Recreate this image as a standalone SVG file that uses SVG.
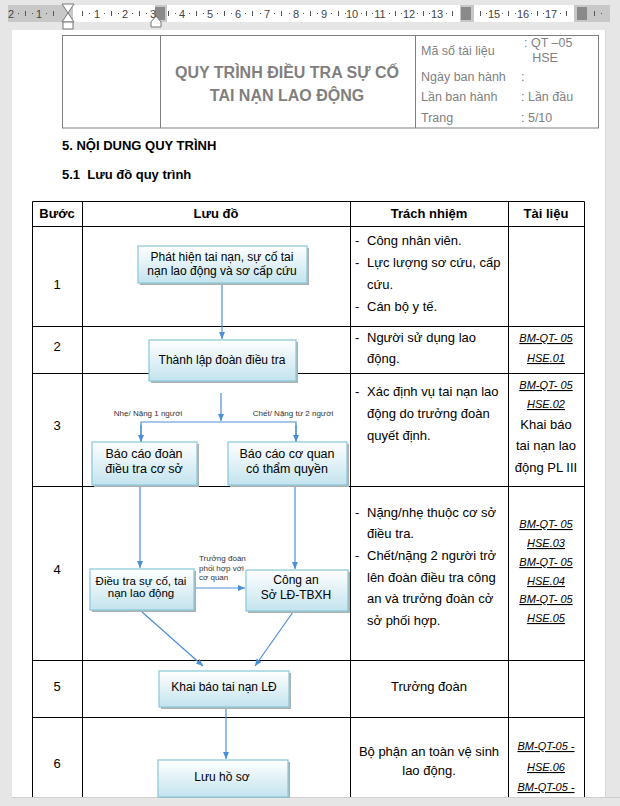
<svg xmlns="http://www.w3.org/2000/svg" width="620" height="806" viewBox="0 0 620 806">
<defs>
<linearGradient id="bg" x1="0" y1="0" x2="0" y2="1">
<stop offset="0" stop-color="#ffffff"/>
<stop offset="1" stop-color="#c3e3ee"/>
</linearGradient>
<marker id="ah" markerWidth="8" markerHeight="8" refX="7" refY="4" orient="auto" markerUnits="userSpaceOnUse">
<path d="M0,1 L7,4 L0,7 Z" fill="#4a8fd6"/>
</marker>
<style>
.t{font-family:"Liberation Sans",Arial,sans-serif;fill:#000}
.g{font-family:"Liberation Sans",Arial,sans-serif;fill:#7f7f7f}
.r{font-family:"Liberation Sans",Arial,sans-serif;fill:#444;font-size:11px}
.b{font-weight:bold}
.box{fill:url(#bg);stroke:#8ecbdc;stroke-width:1.3}
.sh{fill:#b0b0b0}
.c{fill:none;stroke:#4a8fd6;stroke-width:1.2}
.tl{stroke:#000;stroke-width:1;fill:none}
.hl{stroke:#7f7f7f;stroke-width:1;fill:none}
.doc{font-family:"Liberation Sans",Arial,sans-serif;font-size:11px;font-style:italic;text-decoration:underline;fill:#000}
.bx{font-size:12px}
.sm{font-size:8px;fill:#333}
</style>
</defs>
<rect width="620" height="806" fill="#e6e6e6"/>
<!-- ruler -->
<g id="ruler">
<rect x="8" y="5" width="602" height="17" fill="#c8c8c8"/>
<rect x="73" y="5" width="82" height="17" fill="#ffffff"/>
<rect x="167" y="5" width="293" height="17" fill="#ffffff"/>
<rect x="474" y="5" width="100" height="17" fill="#ffffff"/>
<rect x="155" y="7" width="10" height="13" fill="#8a8a8a"/>
<rect x="461" y="7" width="10" height="13" fill="#8a8a8a"/>
<rect x="577" y="7" width="10" height="13" fill="#8a8a8a"/>
<path d="M62,4 L74,4 L68,13 L74,22 L62,22 L68,13 Z" fill="#fff" stroke="#777" stroke-width="1"/>
<rect x="63" y="22" width="10" height="7" fill="#fff" stroke="#777" stroke-width="1"/>
<path d="M151,22 L156,16 L161,22 L161,27 L151,27 Z" fill="#fff" stroke="#777" stroke-width="1"/>
<text class="r" x="11" y="18" text-anchor="middle">2</text>
<text class="r" x="39" y="18" text-anchor="middle">1</text>
<text class="r" x="97" y="18" text-anchor="middle">1</text>
<text class="r" x="125" y="18" text-anchor="middle">2</text>
<text class="r" x="153" y="18" text-anchor="middle">3</text>
<text class="r" x="182" y="18" text-anchor="middle">4</text>
<text class="r" x="210" y="18" text-anchor="middle">5</text>
<text class="r" x="238" y="18" text-anchor="middle">6</text>
<text class="r" x="267" y="18" text-anchor="middle">7</text>
<text class="r" x="296" y="18" text-anchor="middle">8</text>
<text class="r" x="324" y="18" text-anchor="middle">9</text>
<text class="r" x="352" y="18" text-anchor="middle">10</text>
<text class="r" x="380" y="18" text-anchor="middle">11</text>
<text class="r" x="409" y="18" text-anchor="middle">12</text>
<text class="r" x="437" y="18" text-anchor="middle">13</text>
<text class="r" x="494" y="18" text-anchor="middle">15</text>
<text class="r" x="523" y="18" text-anchor="middle">16</text>
<text class="r" x="551" y="18" text-anchor="middle">17</text>
<g fill="#555">
<rect x="18" y="13" width="1" height="1"/><rect x="25" y="11" width="1" height="5"/><rect x="32" y="13" width="1" height="1"/>
<rect x="46" y="13" width="1" height="1"/><rect x="53" y="11" width="1" height="5"/>
<rect x="82" y="11" width="1" height="5"/><rect x="89" y="13" width="1" height="1"/>
<rect x="104" y="13" width="1" height="1"/><rect x="111" y="11" width="1" height="5"/><rect x="118" y="13" width="1" height="1"/>
<rect x="132" y="13" width="1" height="1"/><rect x="139" y="11" width="1" height="5"/><rect x="146" y="13" width="1" height="1"/>
<rect x="168" y="11" width="1" height="5"/><rect x="175" y="13" width="1" height="1"/>
<rect x="189" y="13" width="1" height="1"/><rect x="196" y="11" width="1" height="5"/><rect x="203" y="13" width="1" height="1"/>
<rect x="217" y="13" width="1" height="1"/><rect x="224" y="11" width="1" height="5"/><rect x="231" y="13" width="1" height="1"/>
<rect x="245" y="13" width="1" height="1"/><rect x="252" y="11" width="1" height="5"/><rect x="260" y="13" width="1" height="1"/>
<rect x="274" y="13" width="1" height="1"/><rect x="281" y="11" width="1" height="5"/><rect x="289" y="13" width="1" height="1"/>
<rect x="303" y="13" width="1" height="1"/><rect x="310" y="11" width="1" height="5"/><rect x="317" y="13" width="1" height="1"/>
<rect x="331" y="13" width="1" height="1"/><rect x="338" y="11" width="1" height="5"/><rect x="345" y="13" width="1" height="1"/>
<rect x="361" y="13" width="1" height="1"/><rect x="366" y="11" width="1" height="5"/><rect x="372" y="13" width="1" height="1"/>
<rect x="389" y="13" width="1" height="1"/><rect x="395" y="11" width="1" height="5"/><rect x="401" y="13" width="1" height="1"/>
<rect x="417" y="13" width="1" height="1"/><rect x="423" y="11" width="1" height="5"/><rect x="429" y="13" width="1" height="1"/>
<rect x="446" y="13" width="1" height="1"/><rect x="452" y="11" width="1" height="5"/>
<rect x="480" y="11" width="1" height="5"/><rect x="486" y="13" width="1" height="1"/>
<rect x="502" y="13" width="1" height="1"/><rect x="508" y="11" width="1" height="5"/><rect x="515" y="13" width="1" height="1"/>
<rect x="531" y="13" width="1" height="1"/><rect x="537" y="11" width="1" height="5"/><rect x="543" y="13" width="1" height="1"/>
<rect x="560" y="13" width="1" height="1"/><rect x="566" y="11" width="1" height="5"/>
<rect x="594" y="11" width="1" height="5"/><rect x="601" y="13" width="1" height="1"/>
</g>
</g>
<!-- page -->
<rect x="12" y="30" width="593" height="767" fill="#ffffff"/>
<line x1="12" y1="797.5" x2="620" y2="797.5" stroke="#cfcfcf"/>
<line x1="605.5" y1="30" x2="605.5" y2="797" stroke="#d6d6d6"/>
<!-- header table -->
<g id="header">
<rect x="62.5" y="35.5" width="536" height="92.5" class="hl"/>
<line x1="160.5" y1="35.5" x2="160.5" y2="128" class="hl"/>
<line x1="415.5" y1="35.5" x2="415.5" y2="128" class="hl"/>
<text class="g b" x="287" y="78" font-size="16" text-anchor="middle">QUY TRÌNH ĐIỀU TRA SỰ CỐ</text>
<text class="g b" x="287" y="101" font-size="16" text-anchor="middle">TAI NẠN LAO ĐỘNG</text>
<text class="g" x="421" y="55" font-size="12.5">Mã số tài liệu</text>
<text class="g" x="524" y="47" font-size="12.5">: QT –05</text>
<text class="g" x="545" y="62" font-size="12.5" text-anchor="middle">HSE</text>
<text class="g" x="421" y="81" font-size="12.5">Ngày ban hành</text>
<text class="g" x="521" y="81" font-size="12.5">:</text>
<text class="g" x="421" y="101" font-size="12.5">Lần ban hành</text>
<text class="g" x="521" y="101" font-size="12.5">: Lần đầu</text>
<text class="g" x="421" y="122" font-size="12.5">Trang</text>
<text class="g" x="521" y="122" font-size="12.5">: 5/10</text>
</g>
<text class="t b" x="62" y="150" font-size="13">5. NỘI DUNG QUY TRÌNH</text>
<text class="t b" x="62" y="179" font-size="13" xml:space="preserve">5.1  Lưu đồ quy trình</text>
<!-- main table -->
<g id="table">
<path class="tl" d="M32.5,797 L32.5,201.5 L584.5,201.5 L584.5,797 M82.5,201.5 L82.5,797 M350.5,201.5 L350.5,797 M508.5,201.5 L508.5,797 M32.5,226.5 L584.5,226.5 M32.5,326.5 L584.5,326.5 M32.5,373.5 L584.5,373.5 M32.5,486.5 L584.5,486.5 M32.5,660.5 L584.5,660.5 M32.5,717.5 L584.5,717.5"/>
<g font-size="13" text-anchor="middle" class="t b">
<text class="t b" x="57" y="218">Bước</text>
<text class="t b" x="216" y="218">Lưu đồ</text>
<text class="t b" x="429" y="218">Trách nhiệm</text>
<text class="t b" x="546" y="218">Tài liệu</text>
</g>
<g font-size="13" text-anchor="middle">
<text class="t" x="57" y="289">1</text>
<text class="t" x="57" y="351">2</text>
<text class="t" x="57" y="430">3</text>
<text class="t" x="57" y="574">4</text>
<text class="t" x="57" y="691">5</text>
<text class="t" x="57" y="768">6</text>
</g>
<g font-size="13">
<text class="t" x="355" y="245">-</text><text class="t" x="367" y="245">Công nhân viên.</text>
<text class="t" x="355" y="267">-</text><text class="t" x="367" y="267">Lực lượng sơ cứu, cấp</text>
<text class="t" x="367" y="289">cứu.</text>
<text class="t" x="355" y="311">-</text><text class="t" x="367" y="311">Cán bộ y tế.</text>
<text class="t" x="355" y="342">-</text><text class="t" x="367" y="342">Người sử dụng lao</text>
<text class="t" x="367" y="363">động.</text>
<text class="t" x="355" y="396">-</text><text class="t" x="367" y="396">Xác định vụ tai nạn lao</text>
<text class="t" x="367" y="418">động do trưởng đoàn</text>
<text class="t" x="367" y="440">quyết định.</text>
<text class="t" x="355" y="517">-</text><text class="t" x="367" y="517">Nặng/nhẹ thuộc cơ sở</text>
<text class="t" x="367" y="538">điều tra.</text>
<text class="t" x="355" y="560">-</text><text class="t" x="367" y="560">Chết/nặng 2 người trở</text>
<text class="t" x="367" y="582">lên đoàn điều tra công</text>
<text class="t" x="367" y="603">an và trưởng đoàn cở</text>
<text class="t" x="367" y="625">sở phối hợp.</text>
<text class="t" x="429" y="691" text-anchor="middle">Trưởng đoàn</text>
<text class="t" x="429" y="756" text-anchor="middle">Bộ phận an toàn vệ sinh</text>
<text class="t" x="429" y="775" text-anchor="middle">lao động.</text>
</g>
<g text-anchor="middle">
<text class="doc" x="546" y="342">BM-QT- 05</text>
<text class="doc" x="546" y="362">HSE.01</text>
<text class="doc" x="546" y="389">BM-QT- 05</text>
<text class="doc" x="546" y="408">HSE.02</text>
<text class="t" x="546" y="429" font-size="13">Khai báo</text>
<text class="t" x="546" y="450" font-size="13">tai nạn lao</text>
<text class="t" x="546" y="472" font-size="13">động PL III</text>
<text class="doc" x="546" y="528">BM-QT- 05</text>
<text class="doc" x="546" y="547">HSE.03</text>
<text class="doc" x="546" y="566">BM-QT- 05</text>
<text class="doc" x="546" y="585">HSE.04</text>
<text class="doc" x="546" y="603">BM-QT- 05</text>
<text class="doc" x="546" y="622">HSE.05</text>
<text class="doc" x="546" y="750">BM-QT-05 -</text>
<text class="doc" x="546" y="771">HSE.06</text>
<text class="doc" x="546" y="791">BM-QT-05 -</text>
</g>
</g>
<!-- connectors -->
<g id="connectors">
<line class="c" x1="222" y1="284" x2="222" y2="339" marker-end="url(#ah)"/>
<line class="c" x1="221" y1="393" x2="221" y2="421" marker-end="url(#ah)"/>
<polyline class="c" points="141,442 141,422 296,422 296,442"/>
<line class="c" x1="141" y1="425" x2="141" y2="442" marker-end="url(#ah)"/>
<line class="c" x1="296" y1="425" x2="296" y2="442" marker-end="url(#ah)"/>
<line class="c" x1="140" y1="485" x2="140" y2="568" marker-end="url(#ah)"/>
<line class="c" x1="295" y1="485" x2="295" y2="569" marker-end="url(#ah)"/>
<line class="c" x1="194" y1="588" x2="245" y2="588" marker-end="url(#ah)"/>
<line class="c" x1="142" y1="612" x2="203" y2="666" marker-end="url(#ah)"/>
<line class="c" x1="293" y1="612" x2="255" y2="666" marker-end="url(#ah)"/>
<line class="c" x1="226" y1="707" x2="226" y2="759" marker-end="url(#ah)"/>
<text class="t sm" x="148" y="416" text-anchor="middle">Nhẹ/ Nặng 1 người</text>
<text class="t sm" x="293" y="416" text-anchor="middle">Chết/ Nặng từ 2 người</text>
<text class="t sm" x="199" y="561">Trưởng đoàn</text>
<text class="t sm" x="199" y="571">phối hợp với</text>
<text class="t sm" x="199" y="580">cơ quan</text>
</g>
<!-- nodes -->
<g id="n1">
<rect class="sh" x="140" y="248" width="169" height="37"/>
<rect class="box" x="138" y="246" width="169" height="37"/>
<text class="t bx" x="222" y="261" text-anchor="middle">Phát hiện tai nạn, sự cố tai</text>
<text class="t bx" x="222" y="275" text-anchor="middle">nạn lao động và sơ cấp cứu</text>
</g>
<g id="n2">
<rect class="sh" x="151" y="342" width="147" height="41"/>
<rect class="box" x="149" y="340" width="147" height="41"/>
<text class="t bx" x="222" y="364" text-anchor="middle">Thành lập đoàn điều tra</text>
</g>
<g id="n3">
<rect class="sh" x="94" y="444" width="105" height="43"/>
<rect class="box" x="92" y="442" width="105" height="43"/>
<text class="t" font-size="12.5" x="144" y="458" text-anchor="middle">Báo cáo đoàn</text>
<text class="t" font-size="12.5" x="144" y="473" text-anchor="middle">điều tra cơ sở</text>
</g>
<g id="n4">
<rect class="sh" x="230" y="444" width="119" height="43"/>
<rect class="box" x="228" y="442" width="119" height="43"/>
<text class="t" font-size="12.5" x="287" y="458" text-anchor="middle">Báo cáo cơ quan</text>
<text class="t" font-size="12.5" x="287" y="473" text-anchor="middle">có thẩm quyền</text>
</g>
<g id="n5">
<rect class="sh" x="92" y="571" width="104" height="41"/>
<rect class="box" x="90" y="569" width="104" height="41"/>
<text class="t" font-size="11.5" x="141" y="585" text-anchor="middle">Điều tra sự cố, tai</text>
<text class="t" font-size="11.5" x="141" y="597" text-anchor="middle">nạn lao động</text>
</g>
<g id="n6">
<rect class="sh" x="248" y="572" width="102" height="41"/>
<rect class="box" x="246" y="570" width="102" height="41"/>
<text class="t" font-size="12" x="296" y="584" text-anchor="middle">Công an</text>
<text class="t" font-size="12" x="296" y="599" text-anchor="middle">Sở LĐ-TBXH</text>
</g>
<g id="n7">
<rect class="sh" x="161" y="673" width="130" height="36"/>
<rect class="box" x="159" y="671" width="130" height="36"/>
<text class="t bx" x="224" y="691" text-anchor="middle">Khai báo tai nạn LĐ</text>
</g>
<g id="n8">
<rect class="sh" x="160" y="762" width="130" height="36"/>
<rect class="box" x="158" y="760" width="130" height="37"/>
<text class="t bx" x="222" y="781" text-anchor="middle">Lưu hồ sơ</text>
</g>
<rect x="0" y="798" width="620" height="8" fill="#e6e6e6"/>
</svg>
